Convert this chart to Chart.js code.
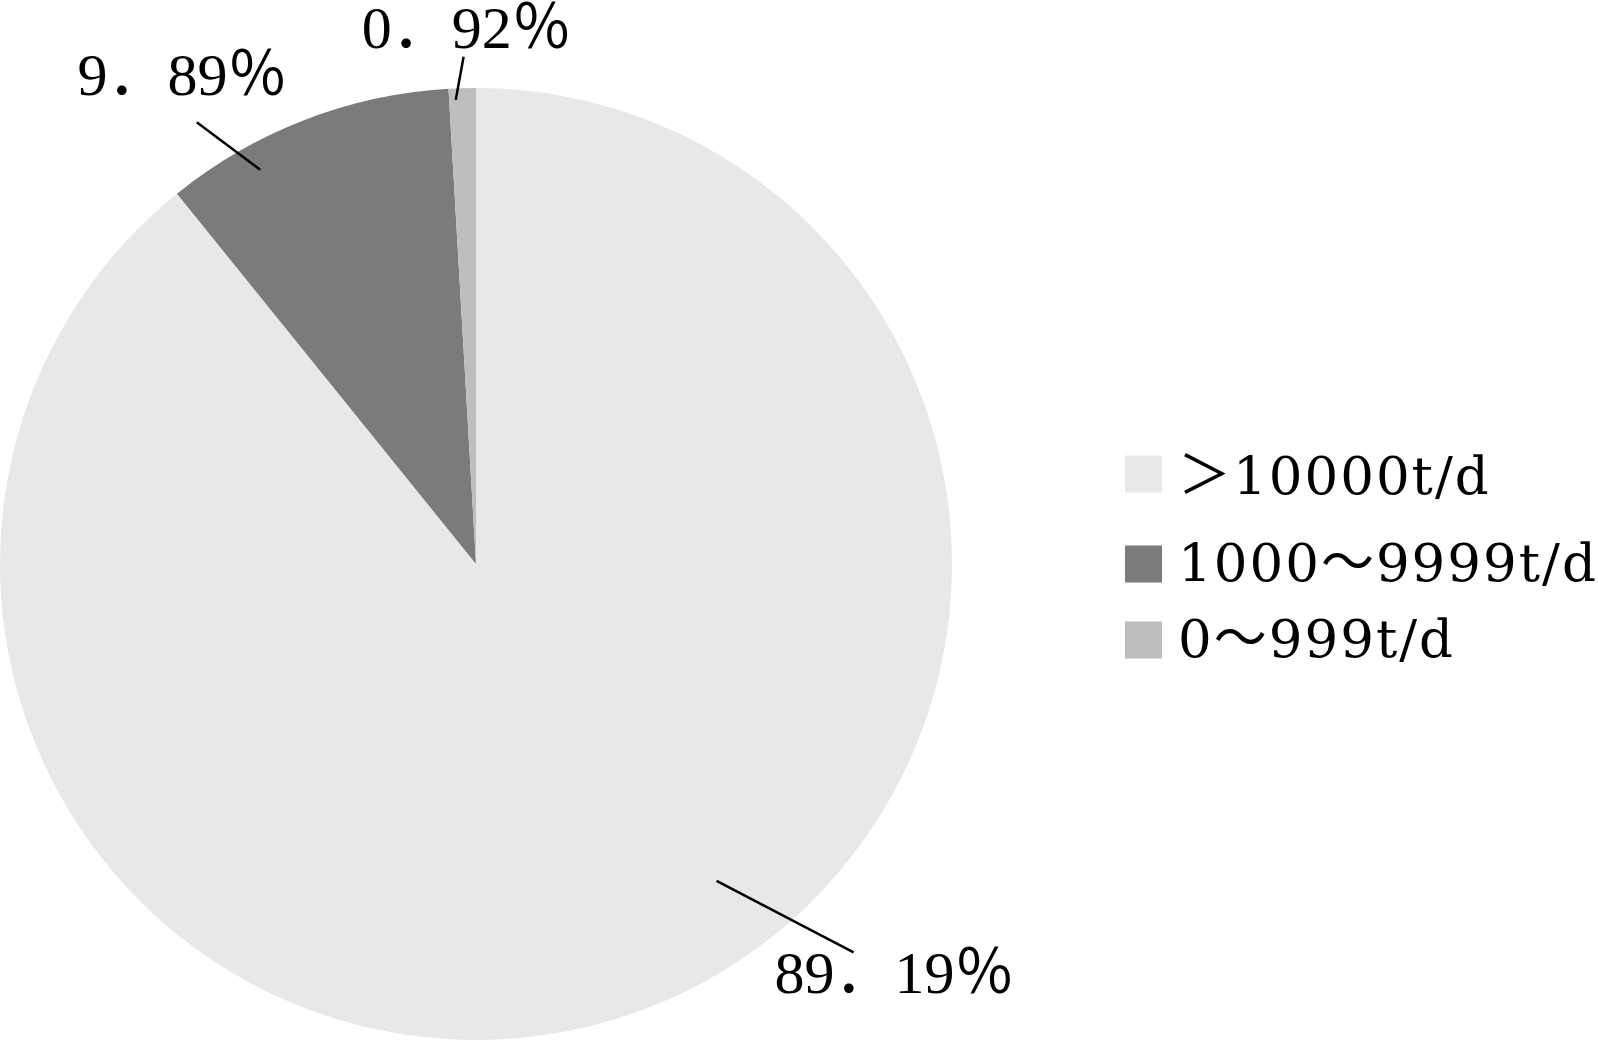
<!DOCTYPE html>
<html>
<head>
<meta charset="utf-8">
<script src="https://cdn.jsdelivr.net/npm/chart.js@4/dist/chart.umd.min.js"></script>
<style>
    body { margin: 0; background: #fff; }
    canvas { display: block; }
</style>
</head>
<body>
<canvas id="chart-pie" width="1598" height="1041"></canvas>
<script>
    // data
    const categories = ['＞10000t/d', '1000～9999t/d', '0～999t/d'];
    const shares = [89.19, 9.89, 0.92];
    const sliceColors = ['#e8e8e8', '#7b7b7b', '#bebebe'];

    // where each percentage label sits, polar: [angle in degrees, fraction of radius]
    const labelSpots = [
        { from: [52.8, 0.836], to: [45.8, 1.138], text: [44.6, 1.235] },
        { from: [-118.7, 0.944], to: [-122.3, 1.098], text: [-121.2, 1.19] },
        { from: [-92.5, 0.976], to: [-91.4, 1.066], text: [-91.0, 1.118] }
    ];
    const legendRows = [474, 564, 640];

    function pctLabel(v) {
        return v.toFixed(2).replace('.', '．') + '％';
    }

    function polar(arc, spot) {
        const a = spot[0] * Math.PI / 180;
        const r = arc.outerRadius * spot[1];
        return { x: arc.x + Math.cos(a) * r, y: arc.y + Math.sin(a) * r };
    }

    const labelPlugin = {
        id: 'pieLabels',
        afterDraw(chart) {
            const ctx = chart.ctx;
            const arcs = chart.getDatasetMeta(0).data;
            ctx.save();
            ctx.strokeStyle = '#000';
            ctx.lineWidth = 2.5;
            ctx.fillStyle = '#000';
            ctx.font = "60px 'Liberation Serif', 'Noto Sans CJK SC'";
            ctx.textAlign = 'center';
            ctx.textBaseline = 'middle';
            arcs.forEach(function (arc, i) {
                const spot = labelSpots[i];
                const p1 = polar(arc, spot.from);
                const p2 = polar(arc, spot.to);
                ctx.beginPath();
                ctx.moveTo(p1.x, p1.y);
                ctx.lineTo(p2.x, p2.y);
                ctx.stroke();
                const t = polar(arc, spot.text);
                ctx.fillText(pctLabel(shares[i]), t.x, t.y);
            });

            // legend
            ctx.font = "53px 'DejaVu Serif', 'Noto Sans CJK SC'";
            ctx.letterSpacing = '2px';
            ctx.textAlign = 'left';
            categories.forEach(function (name, i) {
                const cy = legendRows[i];
                ctx.fillStyle = sliceColors[i];
                ctx.fillRect(1125, cy - 18.5, 37, 37);
                ctx.fillStyle = '#000';
                ctx.fillText(name, 1178, cy + (i === 0 ? 6 : 3));
            });
            ctx.restore();
        }
    };

    const ctx = document.getElementById('chart-pie').getContext('2d');
    new Chart(ctx, {
        type: 'pie',
        data: {
            labels: categories,
            datasets: [{
                data: shares,
                backgroundColor: sliceColors,
                borderWidth: 0
            }]
        },
        options: {
            responsive: false,
            animation: false,
            layout: {
                padding: { left: 0, top: 88, right: 646, bottom: 1 }
            },
            plugins: {
                legend: { display: false },
                tooltip: { enabled: false }
            }
        },
        plugins: [labelPlugin]
    });
</script>
</body>
</html>
